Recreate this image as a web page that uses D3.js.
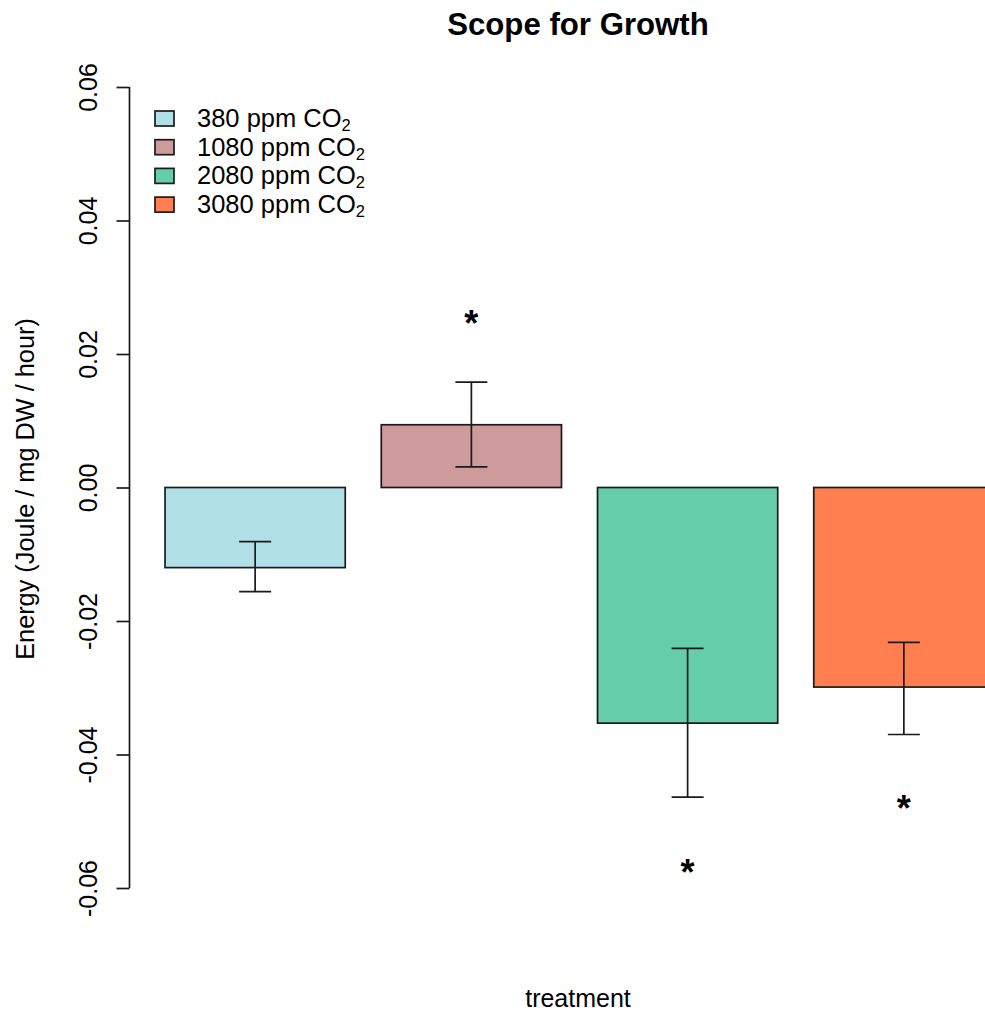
<!DOCTYPE html>
<html>
<head>
<meta charset="utf-8">
<script src="https://cdn.jsdelivr.net/npm/d3@7"></script>
<style>
  html, body { margin: 0; padding: 0; background: #fff; }
  svg { display: block; font-family: "Liberation Sans", Arial, sans-serif; }
</style>
</head>
<body>
<svg id="chart" width="985" height="1013"></svg>
<script>
// ---- data ----
const categories = ["380 ppm", "1080 ppm", "2080 ppm", "3080 ppm"];
const means = [-0.0120, 0.0094, -0.0353, -0.0299];
const errLow = [-0.0156, 0.0031, -0.0464, -0.0370];
const errHigh = [-0.0081, 0.0158, -0.0241, -0.0232];
const starPos = [null, 0.0254, -0.0568, -0.0473];
const colors = ["#B0E0E6", "#CD9B9B", "#66CDAA", "#FF7F50"];
const yTicks = [-0.06, -0.04, -0.02, 0.00, 0.02, 0.04, 0.06];

// ---- layout ----
const svg = d3.select("#chart");
const barWidth = 1, space = 0.2;
const x = d3.scaleLinear().domain([0, 5]).range([129, 1030]);
const y = d3.scaleLinear().domain([-0.06, 0.06]).range([888, 87]);
const left = i => space + i * (barWidth + space);
const mid = i => left(i) + barWidth / 2;

// bars
svg.append("g").selectAll("rect").data(means).join("rect")
  .attr("x", (d, i) => x(left(i)))
  .attr("width", (d, i) => x(left(i) + barWidth) - x(left(i)))
  .attr("y", d => Math.min(y(d), y(0)))
  .attr("height", d => Math.abs(y(d) - y(0)))
  .attr("fill", (d, i) => colors[i])
  .attr("stroke", "#1a1a1a")
  .attr("stroke-width", 1.7);

// error bars
const eg = svg.append("g").attr("stroke", "#1a1a1a").attr("stroke-width", 1.7);
means.forEach((m, i) => {
  const cx = x(mid(i));
  eg.append("line").attr("x1", cx).attr("x2", cx).attr("y1", y(errLow[i])).attr("y2", y(errHigh[i]));
  [errLow[i], errHigh[i]].forEach(v => {
    eg.append("line").attr("x1", cx - 16).attr("x2", cx + 16).attr("y1", y(v)).attr("y2", y(v));
  });
});

// asterisks
svg.append("g").selectAll("text").data(starPos.map((v, i) => ({v, i})).filter(d => d.v !== null)).join("text")
  .attr("x", d => x(mid(d.i)))
  .attr("y", d => y(d.v) + 18)
  .attr("text-anchor", "middle")
  .attr("font-size", 36)
  .attr("font-weight", "bold")
  .text("*");

// y axis
const axis = d3.axisLeft(y).tickValues(yTicks).tickSize(13).tickPadding(0)
  .tickFormat(d3.format(".2f"));
const ag = svg.append("g").attr("transform", "translate(129.5,0)").call(axis);
ag.select(".domain").attr("d", `M0,${y(0.06)}V${y(-0.06)}`).attr("stroke", "#1a1a1a").attr("stroke-width", 1.7);
ag.selectAll(".tick line").attr("stroke", "#1a1a1a").attr("stroke-width", 1.7);
ag.selectAll(".tick text")
  .attr("font-size", 25)
  .attr("fill", "#000")
  .attr("font-family", "Liberation Sans, Arial, sans-serif")
  .attr("text-anchor", "middle")
  .attr("x", null).attr("dy", null).attr("y", 0)
  .attr("transform", "translate(-32.5,0) rotate(-90)")
  .text(d => d3.format(".2f")(d).replace("−", "-"));

// titles
svg.append("text").attr("x", 578).attr("y", 35).attr("text-anchor", "middle")
  .attr("font-size", 31.2).attr("font-weight", "bold").text("Scope for Growth");
svg.append("text").attr("x", 578).attr("y", 1007).attr("text-anchor", "middle")
  .attr("font-size", 25).text("treatment");
svg.append("text").attr("transform", "translate(34,489) rotate(-90)").attr("text-anchor", "middle")
  .attr("font-size", 25.3).text("Energy (Joule / mg DW / hour)");

// legend
const lg = svg.append("g");
categories.forEach((c, i) => {
  const cy = 118.5 + i * 28.7;
  lg.append("rect").attr("x", 155).attr("y", cy - 7.5).attr("width", 19).attr("height", 15)
    .attr("fill", colors[i]).attr("stroke", "#1a1a1a").attr("stroke-width", 1.7);
  const t = lg.append("text").attr("x", 197).attr("y", cy + 8.5).attr("font-size", 25.5);
  t.append("tspan").text(c + " CO");
  t.append("tspan").attr("font-size", 16.5).attr("dy", 4).text("2");
});
</script>
</body>
</html>
